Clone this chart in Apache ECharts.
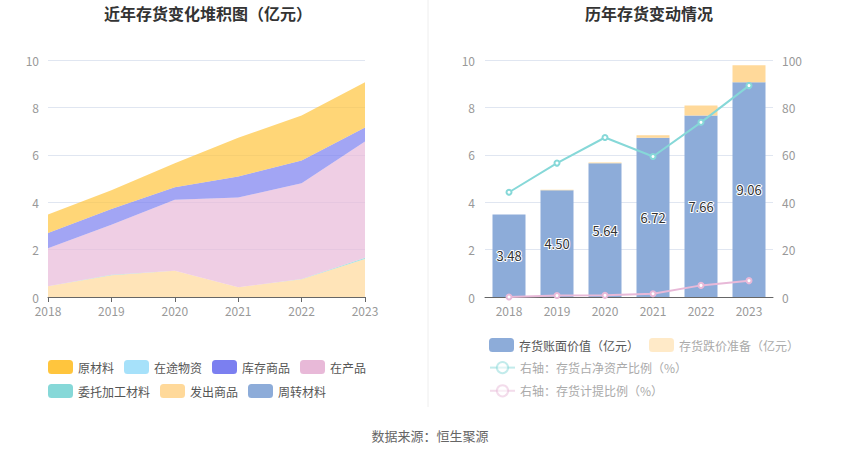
<!DOCTYPE html>
<html>
<head>
<meta charset="utf-8">
<script src="https://cdn.jsdelivr.net/npm/echarts@6/dist/echarts.min.js"></script>
<style>
  html, body { margin: 0; padding: 0; background: #fff; }
  #chart { width: 850px; height: 459px; }
</style>
</head>
<body>
<div id="chart"></div>
<script>
var years = ['2018', '2019', '2020', '2021', '2022', '2023'];

// left: stacked inventory breakdown (亿元)
var rawMaterial = [0.78, 0.79, 1.01, 1.64, 1.90, 1.91];   // 原材料
var inTransit = [0, 0, 0, 0, 0, 0];                       // 在途物资
var stockGoods = [0.64, 0.66, 0.53, 0.88, 0.96, 0.59];    // 库存商品
var wip = [1.61, 2.11, 2.99, 3.79, 4.04, 4.90];           // 在产品
var consigned = [0, 0.02, 0, 0, 0.01, 0.06];              // 委托加工材料
var shipped = [0.45, 0.92, 1.11, 0.41, 0.75, 1.60];       // 发出商品
var turnover = [0, 0, 0, 0, 0, 0];                        // 周转材料

// right: book value, impairment reserve, ratios
var bookValue = [3.48, 4.50, 5.64, 6.72, 7.66, 9.06];
var reserve = [0, 0.03, 0.04, 0.10, 0.42, 0.72];
var ratioNetAsset = [44.2, 56.5, 67.3, 59.3, 73.7, 89.2];
var ratioReserve = [0, 0.6, 0.7, 1.4, 4.9, 6.9];

var font = '"Noto Sans CJK SC", "Noto Sans", sans-serif';
var muted = '#999';
var gridLine = '#e0e6f1';

function area(name, data, color) {
  return {
    name: name, type: 'line', stack: 'inv', data: data,
    xAxisIndex: 0, yAxisIndex: 0,
    symbol: 'none', showSymbol: false,
    itemStyle: { color: color },
    lineStyle: { width: 0 },
    areaStyle: { color: color, opacity: 0.7 }
  };
}

var chart = echarts.init(document.getElementById('chart'), null, { renderer: 'svg' });
chart.setOption({
  animation: false,
  textStyle: { fontFamily: font },
  title: [
    { text: '近年存货变化堆积图（亿元）', left: 203, top: 0, textAlign: 'center',
      textStyle: { fontSize: 16, fontWeight: 'bold', color: '#333', fontFamily: font } },
    { text: '历年存货变动情况', left: 644, top: 0, textAlign: 'center',
      textStyle: { fontSize: 16, fontWeight: 'bold', color: '#333', fontFamily: font } },
    { text: '数据来源：恒生聚源', left: 425, top: 424, textAlign: 'center',
      textStyle: { fontSize: 13, fontWeight: 'normal', color: '#666', fontFamily: font } }
  ],
  graphic: [{
    type: 'line', shape: { x1: 428, y1: 0, x2: 428, y2: 407 },
    style: { stroke: '#eeeeee', lineWidth: 1 }
  }],
  legend: [
    {
      left: 43, top: 355, width: 335, icon: 'roundRect',
      itemWidth: 25, itemHeight: 14, itemGap: 10,
      textStyle: { color: '#555', fontSize: 12, fontFamily: font },
      data: ['原材料', '在途物资', '库存商品', '在产品', '委托加工材料', '发出商品', '周转材料']
    },
    {
      left: 484, top: 333, icon: 'roundRect',
      itemWidth: 25, itemHeight: 14, itemGap: 10,
      textStyle: { color: '#555', fontSize: 12, fontFamily: font },
      data: [
        { name: '存货账面价值（亿元）' },
        { name: '存货跌价准备（亿元）', itemStyle: { opacity: 0.55 }, textStyle: { color: '#aaa' } }
      ]
    },
    {
      left: 484, top: 356, orient: 'vertical',
      itemWidth: 25, itemHeight: 14, itemGap: 10,
      textStyle: { color: '#aaa', fontSize: 12, fontFamily: font },
      data: [
        { name: '右轴：存货占净资产比例（%）', itemStyle: { opacity: 0.5 }, lineStyle: { opacity: 0.5 } },
        { name: '右轴：存货计提比例（%）', itemStyle: { opacity: 0.5 }, lineStyle: { opacity: 0.5 } }
      ]
    }
  ],
  grid: [
    { left: 48, right: 485, top: 60, bottom: 162 },
    { left: 485, right: 77, top: 60, bottom: 162 }
  ],
  xAxis: [
    {
      gridIndex: 0, type: 'category', data: years, boundaryGap: false,
      axisLine: { lineStyle: { color: '#666' } },
      axisTick: { show: true, lineStyle: { color: '#666' } },
      axisLabel: { color: muted, fontSize: 12, margin: 7 }
    },
    {
      gridIndex: 1, type: 'category', data: years,
      axisLine: { lineStyle: { color: '#666' } },
      axisTick: { show: false },
      axisLabel: { color: muted, fontSize: 12, margin: 7 }
    }
  ],
  yAxis: [
    {
      gridIndex: 0, type: 'value', min: 0, max: 10, interval: 2,
      axisLine: { show: false }, axisTick: { show: false },
      axisLabel: { color: muted, fontSize: 12, margin: 9 },
      splitLine: { lineStyle: { color: gridLine } }
    },
    {
      gridIndex: 1, type: 'value', min: 0, max: 10, interval: 2,
      axisLine: { show: false }, axisTick: { show: false },
      axisLabel: { color: muted, fontSize: 12, margin: 10 },
      splitLine: { lineStyle: { color: gridLine } }
    },
    {
      gridIndex: 1, type: 'value', min: 0, max: 100, interval: 20, position: 'right',
      axisLine: { show: false }, axisTick: { show: false },
      axisLabel: { color: muted, fontSize: 12, margin: 9 },
      splitLine: { show: false }
    }
  ],
  series: [
    area('发出商品', shipped, '#ffd99a'),
    area('委托加工材料', consigned, '#86d8d8'),
    area('在产品', wip, '#e8b9d8'),
    area('库存商品', stockGoods, '#7b7ff0'),
    area('在途物资', inTransit, '#a6e1fa'),
    area('周转材料', turnover, '#8dacd9'),
    area('原材料', rawMaterial, '#ffc53d'),
    {
      name: '存货账面价值（亿元）', type: 'bar', stack: 'bv',
      xAxisIndex: 1, yAxisIndex: 1, barWidth: 33,
      data: bookValue,
      itemStyle: { color: '#8dacd9' },
      label: {
        show: true, position: 'inside', color: '#333', fontSize: 13,
        textBorderColor: '#fff', textBorderWidth: 2,
        formatter: function (p) { return p.value.toFixed(2); }
      }
    },
    {
      name: '存货跌价准备（亿元）', type: 'bar', stack: 'bv',
      xAxisIndex: 1, yAxisIndex: 1, barWidth: 33,
      data: reserve,
      itemStyle: { color: '#ffd99a' }
    },
    {
      name: '右轴：存货占净资产比例（%）', type: 'line',
      xAxisIndex: 1, yAxisIndex: 2, data: ratioNetAsset,
      symbol: 'emptyCircle', symbolSize: 5,
      itemStyle: { color: '#86d8d8' },
      lineStyle: { color: '#86d8d8', width: 2 }
    },
    {
      name: '右轴：存货计提比例（%）', type: 'line',
      xAxisIndex: 1, yAxisIndex: 2, data: ratioReserve,
      symbol: 'emptyCircle', symbolSize: 5,
      itemStyle: { color: '#e8b9d8' },
      lineStyle: { color: '#e8b9d8', width: 2 }
    }
  ]
});
</script>
</body>
</html>
